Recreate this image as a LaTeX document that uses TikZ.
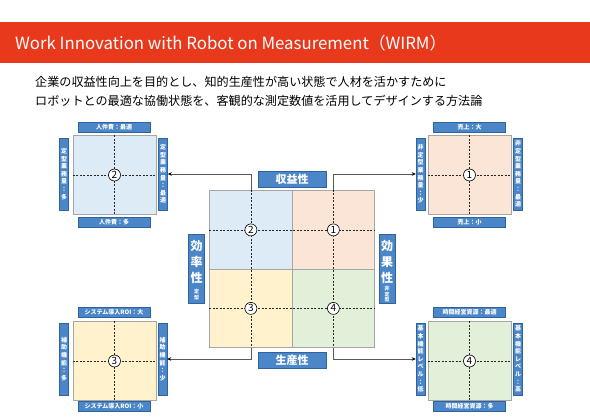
\documentclass[tikz,border=0pt]{standalone}
\usepackage{fontspec}
\setmainfont{Noto Sans CJK JP}
\usetikzlibrary{arrows.meta}
\definecolor{titlered}{HTML}{E8391D}
\definecolor{lblue}{HTML}{4A86C8}
\definecolor{lbord}{HTML}{2F639C}
\definecolor{cblue}{HTML}{DDEBF7}
\definecolor{cpeach}{HTML}{FBE5D6}
\definecolor{cyellow}{HTML}{FFF2CC}
\definecolor{cgreen}{HTML}{E2F0D9}
\definecolor{gborder}{HTML}{A6A6A6}
\definecolor{conncol}{HTML}{595959}
\tikzset{
  cellbox/.style={draw=gborder, line width=0.8pt, inner sep=0pt, anchor=north west},
  quadbox/.style={draw=gborder, line width=0.8pt, inner sep=0pt, minimum width=83pt, minimum height=79pt},
  dline/.style={draw=black!85, line width=0.7pt, dash pattern=on 2pt off 1.5pt},
  numc/.style={circle, draw=black, fill=white, line width=0.6pt, inner sep=0pt, minimum size=12pt, font=\fontsize{10}{10}\selectfont},
  hlabel/.style={fill=lblue, draw=lbord, line width=0.4pt, text=white, inner sep=0pt, minimum width=72pt, minimum height=10pt, font=\bfseries\fontsize{6}{7}\selectfont},
  vlabel/.style={fill=lblue, draw=lbord, line width=0.4pt, text=white, inner sep=0pt, minimum width=9pt, minimum height=72pt, align=center, font=\bfseries\fontsize{6}{7.6}\selectfont},
  headbox/.style={fill=lblue, draw=lbord, line width=0.4pt, text=white, inner sep=0pt, minimum width=68pt, minimum height=16pt, font=\bfseries\fontsize{11}{12}\selectfont},
  sidebox/.style={fill=lblue, draw=lbord, line width=0.4pt, inner sep=0pt, minimum width=16pt, minimum height=69pt},
  sidetext/.style={text=white, inner sep=0pt, align=center, font=\bfseries\fontsize{12}{16}\selectfont},
  sidesmall/.style={text=white, inner sep=0pt, align=center, font=\bfseries\fontsize{5}{5.5}\selectfont},
  conn/.style={draw=conncol, line width=0.8pt, -{Stealth[length=4pt,width=3.5pt,black]}}
}
\begin{document}
\begin{tikzpicture}[x=1pt,y=-1pt]
\useasboundingbox (0,0) rectangle (590,417);
\fill[white] (0,0) rectangle (590,417);
% title bar
\node[fill=titlered, minimum width=590pt, minimum height=41pt, inner sep=0pt, anchor=north west] (bar) at (0,22) {};
\node[anchor=west, text=white, inner sep=0pt, font=\fontsize{16.8}{20}\selectfont] (title) at (15,43) {Work Innovation with Robot on Measurement（WIRM）};
\node[anchor=west, inner sep=0pt, font=\fontsize{12.1}{14}\selectfont] (sub1) at (35,82) {企業の収益性向上を目的とし、知的生産性が高い状態で人材を活かすために};
\node[anchor=west, inner sep=0pt, font=\fontsize{12.1}{14}\selectfont] (sub2) at (35,101) {ロボットとの最適な協働状態を、客観的な測定数値を活用してデザインする方法論};

% central grid
\node[cellbox, fill=cblue, minimum width=83pt, minimum height=79pt] (c2) at (209,190) {};
\node[cellbox, fill=cpeach, minimum width=82pt, minimum height=79pt] (c1) at (292,190) {};
\node[cellbox, fill=cyellow, minimum width=83pt, minimum height=78pt] (c3) at (209,269) {};
\node[cellbox, fill=cgreen, minimum width=82pt, minimum height=78pt] (c4) at (292,269) {};
\draw[dline] (c2.north) -- (c3.south);
\draw[dline] (c1.north) -- (c4.south);
\draw[dline] (c2.west) -- (c1.east);
\draw[dline] (c3.west) -- (c4.east);
\node[numc] (n2) at (c2.center) {2};
\node[numc] (n1) at (c1.center) {1};
\node[numc] (n3) at (c3.center) {3};
\node[numc] (n4) at (c4.center) {4};

\node[headbox] (hrev) at (292,179) {収益性};
\node[headbox] (hprod) at (292,360) {生産性};
\node[sidebox] (seff) at (196.5,268.5) {};
\node[sidetext] (seffT) at (196.5,262) {効\\率\\性};
\node[sidesmall] (seffS) at (196.5,294.5) {定\\型};
\node[sidebox] (sefc) at (387,268.5) {};
\node[sidetext] (sefcT) at (387,262) {効\\果\\性};
\node[sidesmall] (sefcS) at (387,294.5) {非\\定\\型};

% quadrant 2 (top-left)
\node[quadbox, fill=cblue] (q2) at (114.5,175) {};
\draw[dline] (q2.north) -- (q2.south);
\draw[dline] (q2.west) -- (q2.east);
\node[numc] (q2n) at (q2.center) {2};
\node[hlabel] (q2t) at (114,127) {人件費：最適};
\node[hlabel] (q2b) at (114,222) {人件費：多};
\node[vlabel] (q2l) at (64,174) {定\\型\\業\\務\\量\\：\\多};
\node[vlabel] (q2r) at (163,174) {定\\型\\業\\務\\量\\：\\最\\適};

% quadrant 1 (top-right)
\node[quadbox, fill=cpeach] (q1) at (469.5,175) {};
\draw[dline] (q1.north) -- (q1.south);
\draw[dline] (q1.west) -- (q1.east);
\node[numc] (q1n) at (q1.center) {1};
\node[hlabel] (q1t) at (469.5,127) {売上：大};
\node[hlabel] (q1b) at (469.5,222) {売上：小};
\node[vlabel] (q1l) at (420.5,174) {非\\定\\型\\業\\務\\量\\：\\少};
\node[vlabel] (q1r) at (518,174) {非\\定\\型\\業\\務\\量\\：\\最\\適};

% quadrant 3 (bottom-left)
\node[quadbox, fill=cyellow] (q3) at (114.5,361) {};
\draw[dline] (q3.north) -- (q3.south);
\draw[dline] (q3.west) -- (q3.east);
\node[numc] (q3n) at (q3.center) {3};
\node[hlabel] (q3t) at (114,312.5) {システム導入ROI：大};
\node[hlabel] (q3b) at (114,406.5) {システム導入ROI：小};
\node[vlabel] (q3l) at (64,359) {補\\助\\機\\能\\：\\多};
\node[vlabel] (q3r) at (162.5,359) {補\\助\\機\\能\\：\\少};

% quadrant 4 (bottom-right)
\node[quadbox, fill=cgreen] (q4) at (469.5,361) {};
\draw[dline] (q4.north) -- (q4.south);
\draw[dline] (q4.west) -- (q4.east);
\node[numc] (q4n) at (q4.center) {4};
\node[hlabel] (q4t) at (469.5,312.5) {時間経営資源：最適};
\node[hlabel] (q4b) at (469.5,406.5) {時間経営資源：多};
\node[vlabel] (q4l) at (420.5,359) {基\\本\\機\\能\\レ\\ベ\\ル\\：\\低};
\node[vlabel] (q4r) at (518,359) {基\\本\\機\\能\\レ\\ベ\\ル\\：\\高};

% connectors
\draw[conn] (c2.north) |- (q2r.east);
\draw[conn] (c1.north) |- (q1l.west);
\draw[conn] (c3.south) |- (q3r.east);
\draw[conn] (c4.south) |- (q4l.west);
\end{tikzpicture}
\end{document}
